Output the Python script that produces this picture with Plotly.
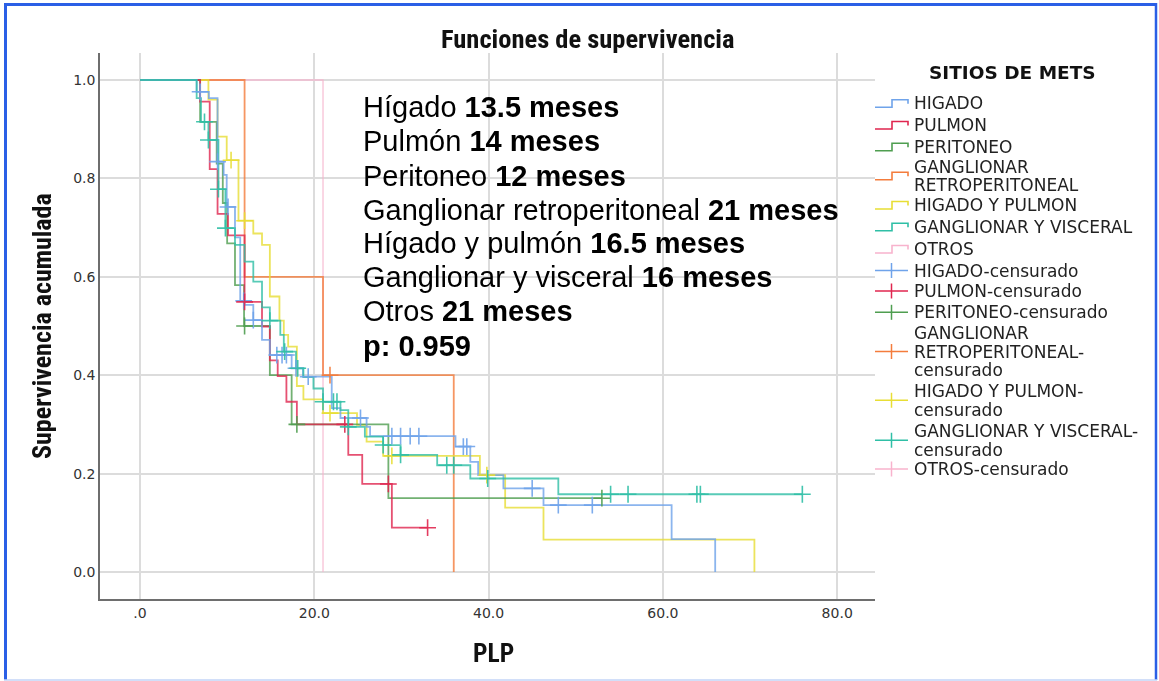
import plotly.graph_objects as go

# ---------------- data ----------------
groups = ["HIGADO", "PULMON", "PERITONEO", "GANGLIONAR RETROPERITONEAL",
          "HIGADO Y PULMON", "GANGLIONAR Y VISCERAL", "OTROS"]

higado_t = [6.5, 7.9, 8.9, 9.6, 9.95, 10.9, 11.5, 12.0, 13.0, 14.0, 14.9, 17.4, 18.7,
            22.0, 23.0, 26.0, 26.4, 36.2, 37.9, 38.8, 41.7, 46.3, 61.0, 66.0]
higado_s = [0.976, 0.963, 0.834, 0.807, 0.742, 0.68, 0.551, 0.543, 0.512, 0.472, 0.441, 0.414, 0.397,
            0.333, 0.313, 0.295, 0.276, 0.255, 0.224, 0.197, 0.170, 0.136, 0.067, 0.0]
higado_ct = [6.9, 8.9, 10.1, 11.9, 13.0, 15.7, 16.3, 16.8, 17.9, 19.3, 25.3, 28.9, 29.9, 31.0, 32.0,
             37.1, 37.5, 45.0, 48.0, 51.9]
higado_cs = [0.976, 0.834, 0.742, 0.551, 0.512, 0.441, 0.441, 0.441, 0.414, 0.397, 0.313, 0.276, 0.276,
             0.276, 0.276, 0.255, 0.255, 0.170, 0.136, 0.136]

pulmon_t = [6.9, 8.0, 8.9, 10.1, 12.0, 14.0, 14.9, 15.8, 16.8, 18.0, 23.9, 25.5, 28.9]
pulmon_s = [0.956, 0.819, 0.728, 0.684, 0.549, 0.499, 0.43, 0.398, 0.346, 0.30, 0.238, 0.179, 0.09]
pulmon_ct = [12.0, 23.5, 28.5, 33.0]
pulmon_cs = [0.549, 0.30, 0.179, 0.09]

peritoneo_t = [6.9, 8.8, 9.5, 10.0, 10.9, 11.94, 14.9, 17.4, 28.5]
peritoneo_s = [0.915, 0.83, 0.75, 0.668, 0.583, 0.5, 0.4, 0.3, 0.15]
peritoneo_ct = [12.0, 18.0, 53.0]
peritoneo_cs = [0.5, 0.3, 0.15]

retro_t = [12.0, 21.0, 36.0]
retro_s = [0.6, 0.4, 0.0]
retro_ct = [21.8]
retro_cs = [0.4]

hyp_t = [7.85, 8.9, 9.95, 11.3, 13.0, 14.0, 14.9, 16.0, 16.5, 17.0, 18.0, 18.75, 21.0, 24.9, 26.0,
         27.9, 39.0, 41.9, 46.3, 70.5]
hyp_s = [0.96, 0.885, 0.837, 0.714, 0.688, 0.665, 0.56, 0.511, 0.482, 0.458, 0.378, 0.351, 0.323,
         0.299, 0.265, 0.236, 0.197, 0.131, 0.066, 0.0]
hyp_ct = [10.45, 12.0, 21.8, 28.9, 39.8]
hyp_cs = [0.837, 0.714, 0.323, 0.236, 0.197]

gv_t = [6.5, 7.0, 7.85, 9.0, 9.8, 10.9, 12.0, 13.0, 14.0, 14.9, 16.1, 16.5, 17.9, 18.75, 19.9, 21.0,
        23.0, 23.9, 25.8, 27.9, 29.9, 34.1, 37.9, 48.0]
gv_s = [0.963, 0.915, 0.878, 0.778, 0.699, 0.665, 0.631, 0.59, 0.538, 0.511, 0.482, 0.448, 0.414,
        0.396, 0.373, 0.346, 0.329, 0.295, 0.275, 0.258, 0.238, 0.217, 0.19, 0.158]
gv_ct = [7.4, 7.85, 9.0, 9.8, 14.9, 16.6, 18.1, 21.0, 22.2, 22.6, 23.9, 27.9, 29.9, 35.2, 36.0, 39.9,
         54.0, 56.0, 63.9, 64.3, 76.0]
gv_cs = [0.915, 0.878, 0.778, 0.699, 0.511, 0.448, 0.414, 0.346, 0.346, 0.346, 0.295, 0.258, 0.238,
         0.217, 0.217, 0.19, 0.158, 0.158, 0.158, 0.158, 0.158]

otros_t = [21.0]
otros_s = [0.0]
otros_ct = []
otros_cs = []

x_ticks = [0, 20, 40, 60, 80]
x_ticktext = [".0", "20.0", "40.0", "60.0", "80.0"]
y_ticks = [0.0, 0.2, 0.4, 0.6, 0.8, 1.0]
y_ticktext = ["0.0", "0.2", "0.4", "0.6", "0.8", "1.0"]

median_names = ["Hígado", "Pulmón", "Peritoneo", "Ganglionar retroperitoneal",
                "Hígado y pulmón", "Ganglionar y visceral", "Otros"]
median_values = ["13.5", "14", "12", "21", "16.5", "16", "21"]
p_value = "0.959"

legend_step_lines = [["HIGADO"], ["PULMON"], ["PERITONEO"], ["GANGLIONAR", "RETROPERITONEAL"],
                     ["HIGADO Y PULMON"], ["GANGLIONAR Y VISCERAL"], ["OTROS"]]
legend_cens_lines = [["HIGADO-censurado"], ["PULMON-censurado"], ["PERITONEO-censurado"],
                     ["GANGLIONAR", "RETROPERITONEAL-", "censurado"],
                     ["HIGADO Y PULMON-", "censurado"], ["GANGLIONAR Y VISCERAL-", "censurado"],
                     ["OTROS-censurado"]]

# ---------------- style ----------------
colors = ["#6fa3ea", "#e0264f", "#4f9e50", "#f47c3c", "#e8de35", "#2fbfa6", "#f8b3cd"]
series = [(higado_t, higado_s, higado_ct, higado_cs),
          (pulmon_t, pulmon_s, pulmon_ct, pulmon_cs),
          (peritoneo_t, peritoneo_s, peritoneo_ct, peritoneo_cs),
          (retro_t, retro_s, retro_ct, retro_cs),
          (hyp_t, hyp_s, hyp_ct, hyp_cs),
          (gv_t, gv_s, gv_ct, gv_cs),
          (otros_t, otros_s, otros_ct, otros_cs)]
widths = [1.8, 1.8, 1.8, 1.8, 1.8, 1.8, 1.3]

W, H = 1159, 681
L, R, T, B = 100, 875, 53, 599


def pxx(p):
    return (p - L) / (R - L)


def pxy(p):
    return (B - p) / (B - T)


fig = go.Figure()

draw_order = [6, 3, 4, 2, 1, 0, 5]
for i in draw_order:
    t, s, ct, cs = series[i]
    end = max([t[-1]] + ct)
    xs = [0.0] + t + ([end] if end > t[-1] else [])
    ys = [1.0] + s + ([s[-1]] if end > t[-1] else [])
    fig.add_trace(go.Scatter(x=xs, y=ys, mode="lines",
                             line=dict(color=colors[i], width=widths[i], shape="hv"),
                             opacity=0.8, name=groups[i], showlegend=False))

for (t, s, ct, cs), col, name in zip(series, colors, groups):
    if ct:
        fig.add_trace(go.Scatter(x=ct, y=cs, mode="markers", name=name + "-censurado",
                                 marker=dict(symbol="cross-thin", size=12,
                                             line=dict(color=col, width=1.6)),
                                 opacity=0.9, showlegend=False))

ann = []
shapes = []

# title and axis titles
narrow = "Liberation Sans Narrow, Roboto Condensed, Liberation Sans, Arial"
ann.append(dict(text="<b>Funciones de supervivencia</b>", x=pxx(587), y=pxy(38), xref="paper", yref="paper",
                showarrow=False, xanchor="center", yanchor="middle",
                font=dict(family=narrow, size=26.5, color="#111")))
ann.append(dict(text="<b>Supervivencia acumulada</b>", x=pxx(42), y=pxy(326), xref="paper", yref="paper",
                showarrow=False, xanchor="center", yanchor="middle", textangle=-90,
                font=dict(family=narrow, size=26, color="#111")))
ann.append(dict(text="<b>PLP</b>", x=pxx(493), y=pxy(653), xref="paper", yref="paper",
                showarrow=False, xanchor="center", yanchor="middle",
                font=dict(family=narrow, size=25.5, color="#111")))

# median text block
text_lines = [f"{n} <b>{v} meses</b>" for n, v in zip(median_names, median_values)] + [f"<b>p: {p_value}</b>"]
text_y = [107, 141, 176, 210, 243, 277, 311, 346]
for tl, yy in zip(text_lines, text_y):
    ann.append(dict(text=tl, x=pxx(361), y=pxy(yy), xref="paper", yref="paper", showarrow=False,
                    xanchor="left", yanchor="middle",
                    font=dict(family="Liberation Sans, Arial", size=29, color="#000")))

# legend
leg_font = dict(family="DejaVu Sans, Verdana", size=17, color="#222")
ann.append(dict(text="<b>SITIOS DE METS</b>", x=pxx(1013), y=pxy(73), xref="paper", yref="paper",
                showarrow=False, xanchor="center", yanchor="middle",
                font=dict(family="DejaVu Sans, Verdana", size=18.5, color="#111")))

step_text_y = [[103.3], [125], [146.7], [166.5, 185], [205], [226.7], [249]]
cens_text_y = [[270.5], [291], [312.3], [333, 351.5, 370], [391, 409.5], [431, 449.5], [469]]
text_x = 912

for lines, ys, col in zip(legend_step_lines, step_text_y, colors):
    for ln, yy in zip(lines, ys):
        ann.append(dict(text=ln, x=pxx(text_x), y=pxy(yy), xref="paper", yref="paper", showarrow=False,
                        xanchor="left", yanchor="middle", font=leg_font))
    c = sum(ys) / len(ys)
    path = (f"M {pxx(875)},{pxy(c + 4)} H {pxx(892)} V {pxy(c - 3.5)} H {pxx(908)} V {pxy(c + 0.5)}")
    shapes.append(dict(type="path", path=path, xref="paper", yref="paper",
                       line=dict(color=col, width=1.6)))

for lines, ys, col in zip(legend_cens_lines, cens_text_y, colors):
    for ln, yy in zip(lines, ys):
        ann.append(dict(text=ln, x=pxx(text_x), y=pxy(yy), xref="paper", yref="paper", showarrow=False,
                        xanchor="left", yanchor="middle", font=leg_font))
    c = sum(ys) / len(ys)
    shapes.append(dict(type="line", xref="paper", yref="paper", x0=pxx(875), x1=pxx(908),
                       y0=pxy(c), y1=pxy(c), line=dict(color=col, width=1.5)))
    shapes.append(dict(type="line", xref="paper", yref="paper", x0=pxx(891.5), x1=pxx(891.5),
                       y0=pxy(c - 7.5), y1=pxy(c + 7.5), line=dict(color=col, width=1.5)))

# blue frame
frame = "#2a5fe6"
shapes += [
    dict(type="line", xref="paper", yref="paper", x0=pxx(5.5), x1=pxx(5.5), y0=pxy(3), y1=pxy(680),
         line=dict(color=frame, width=3)),
    dict(type="line", xref="paper", yref="paper", x0=pxx(4), x1=pxx(1157), y0=pxy(4.5), y1=pxy(4.5),
         line=dict(color=frame, width=3)),
    dict(type="line", xref="paper", yref="paper", x0=pxx(1156), x1=pxx(1156), y0=pxy(3), y1=pxy(680),
         line=dict(color=frame, width=2.5)),
    dict(type="line", xref="paper", yref="paper", x0=pxx(4), x1=pxx(1157), y0=pxy(680), y1=pxy(680),
         line=dict(color="#c3d5f7", width=1.5)),
]

x_per_px = 20.0 / 174.3
y_per_px = 1.0 / 492.0

fig.update_layout(
    width=W, height=H,
    margin=dict(l=L, r=W - R, t=T, b=H - B, pad=0),
    paper_bgcolor="white", plot_bgcolor="white",
    showlegend=False,
    annotations=ann, shapes=shapes,
    xaxis=dict(range=[(L - 140) * x_per_px, (R - 140) * x_per_px], tickvals=x_ticks, ticktext=x_ticktext,
               showgrid=True, gridcolor="#dcdcdc", gridwidth=2, zeroline=False,
               showline=True, linecolor="#6e6e6e", linewidth=1.5, ticks="",
               tickfont=dict(family="DejaVu Sans, Verdana", size=14, color="#333"), fixedrange=True),
    yaxis=dict(range=[-(B - 572) * y_per_px, 1.0 + (80 - T) * y_per_px], tickvals=y_ticks,
               ticktext=y_ticktext,
               showgrid=True, gridcolor="#dcdcdc", gridwidth=2, zeroline=False,
               showline=True, linecolor="#6e6e6e", linewidth=1.5, ticks="",
               tickfont=dict(family="DejaVu Sans, Verdana", size=14, color="#333"), fixedrange=True),
)

fig.write_html("out.html")
